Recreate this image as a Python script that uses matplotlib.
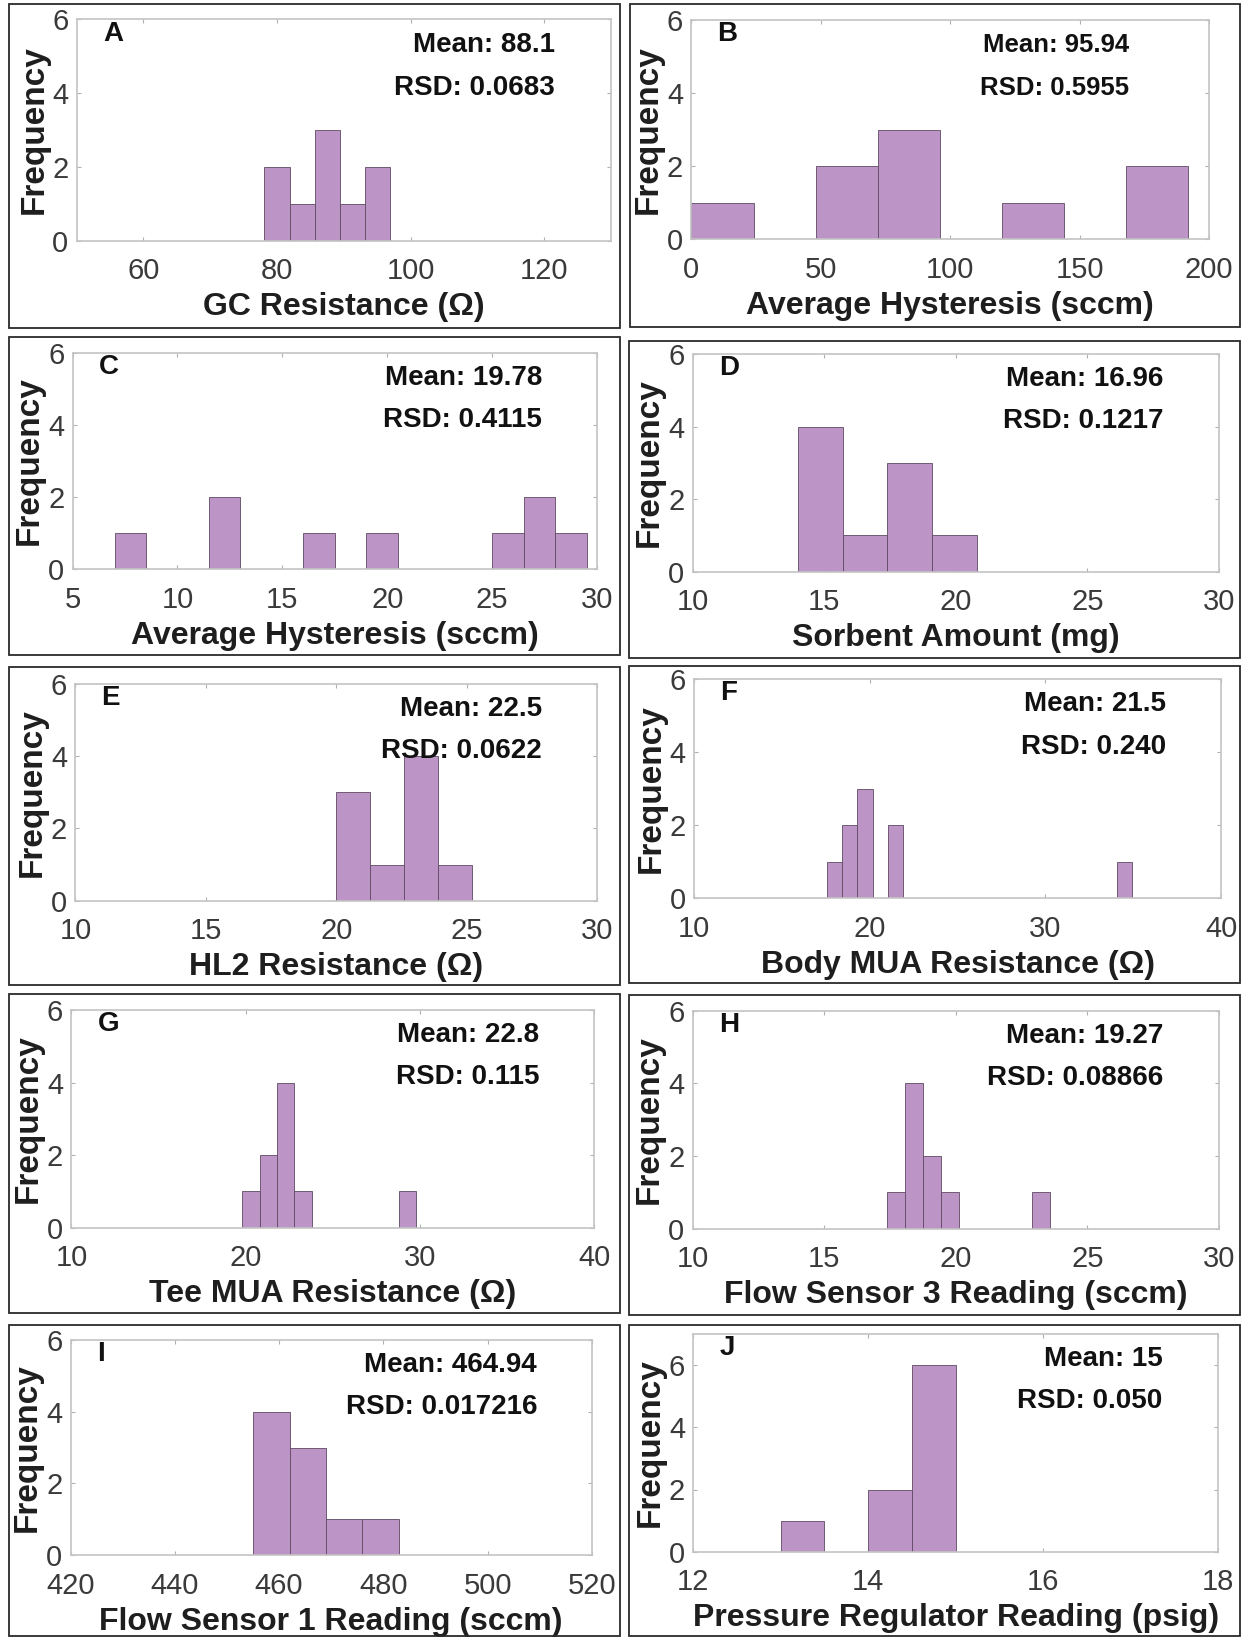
import matplotlib
matplotlib.use("Agg")
import matplotlib.pyplot as plt
from matplotlib.patches import Rectangle

plt.rcParams['font.family'] = ['Liberation Sans', 'DejaVu Sans']

# ---------------- data (non-empty histogram bins) ----------------
letters = ["A", "B", "C", "D", "E", "F", "G", "H", "I", "J"]

xlabels = ["GC Resistance (Ω)", "Average Hysteresis (sccm)",
           "Average Hysteresis (sccm)", "Sorbent Amount (mg)",
           "HL2 Resistance (Ω)", "Body MUA Resistance (Ω)",
           "Tee MUA Resistance (Ω)", "Flow Sensor 3 Reading (sccm)",
           "Flow Sensor 1 Reading (sccm)", "Pressure Regulator Reading (psig)"]

means = ["88.1", "95.94", "19.78", "16.96", "22.5", "21.5", "22.8", "19.27", "464.94", "15"]
rsds = ["0.0683", "0.5955", "0.4115", "0.1217", "0.0622", "0.240", "0.115", "0.08866", "0.017216", "0.050"]

binleft_A = [78.1, 81.9, 85.7, 89.4, 93.2]
counts_A = [2, 1, 3, 1, 2]
width_A = 3.78

binleft_B = [0, 48, 72, 120, 168]
counts_B = [1, 2, 3, 1, 2]
width_B = 24

binleft_C = [7.0, 11.5, 16.0, 19.0, 25.0, 26.5, 28.0]
counts_C = [1, 2, 1, 1, 1, 2, 1]
width_C = 1.5

binleft_D = [14.0, 15.7, 17.4, 19.1]
counts_D = [4, 1, 3, 1]
width_D = 1.7

binleft_E = [20.0, 21.3, 22.6, 23.9]
counts_E = [3, 1, 4, 1]
width_E = 1.3

binleft_F = [17.55, 18.42, 19.29, 21.03, 34.08]
counts_F = [1, 2, 3, 2, 1]
width_F = 0.87

binleft_G = [19.8, 20.8, 21.8, 22.8, 28.8]
counts_G = [1, 2, 4, 1, 1]
width_G = 1.0

binleft_H = [17.38, 18.07, 18.76, 19.45, 22.9]
counts_H = [1, 4, 2, 1, 1]
width_H = 0.69

binleft_I = [455, 462, 469, 476]
counts_I = [4, 3, 1, 1]
width_I = 7

binleft_J = [13.0, 14.0, 14.5]
counts_J = [1, 2, 6]
width_J = 0.5

binlefts = [binleft_A, binleft_B, binleft_C, binleft_D, binleft_E,
            binleft_F, binleft_G, binleft_H, binleft_I, binleft_J]
counts = [counts_A, counts_B, counts_C, counts_D, counts_E,
          counts_F, counts_G, counts_H, counts_I, counts_J]
widths = [width_A, width_B, width_C, width_D, width_E,
          width_F, width_G, width_H, width_I, width_J]

xlims = [(50, 130), (0, 200), (5, 30), (10, 30), (10, 30),
         (10, 40), (10, 40), (10, 30), (420, 520), (12, 18)]
xticks = [[60, 80, 100, 120], [0, 50, 100, 150, 200], [5, 10, 15, 20, 25, 30],
          [10, 15, 20, 25, 30], [10, 15, 20, 25, 30], [10, 20, 30, 40],
          [10, 20, 30, 40], [10, 15, 20, 25, 30], [420, 440, 460, 480, 500, 520],
          [12, 14, 16, 18]]
ylims = [6, 6, 6, 6, 6, 6, 6, 6, 6, 7]
yticks = [0, 2, 4, 6]

# ---------------- layout (pixels) ----------------
W, H = 1244, 1637
axes_px = [  # left, right, top, bottom
    (76.7, 611, 19.3, 240.7), (691.4, 1209, 20, 239.3),
    (72.6, 597, 352.7, 569.3), (692.6, 1219, 354, 571.7),
    (75.4, 597, 684, 900.7), (694.2, 1221, 679, 898.3),
    (71.4, 594.2, 1010, 1227.7), (692.6, 1219, 1010.7, 1228.7),
    (70.6, 591.8, 1340, 1555), (693.4, 1217.8, 1334, 1551.7),
]
frames_px = [
    (9.3, 620, 4, 328), (630, 1239.5, 4, 327),
    (9.3, 620, 337, 655), (629, 1239.5, 341, 658),
    (9.3, 620, 667, 985), (629, 1239.5, 666, 983),
    (9.3, 620, 994, 1313), (629, 1239.5, 995, 1315),
    (9.3, 620, 1325, 1636), (629, 1239.5, 1325, 1636),
]
# annotation placement (axes fraction) and size per panel
note_x = [0.895, 0.845, 0.895, 0.895, 0.895, 0.895, 0.895, 0.895, 0.895, 0.895]
note_size = [20, 18.5, 20, 20, 20, 20, 20, 20, 20, 20]

fig = plt.figure(figsize=(W / 100, H / 100), dpi=100)
fig.patch.set_facecolor("white")

bar_face = "#bd94c6"
bar_edge = "#5e4a63"
spine_col = "#c4c4c4"
tick_col = "#3a3a3a"

for i in range(10):
    l, r, t, b = axes_px[i]
    ax = fig.add_axes([l / W, 1 - b / H, (r - l) / W, (b - t) / H])
    ax.bar(binlefts[i], counts[i], width=widths[i], align="edge",
           color=bar_face, edgecolor=bar_edge, linewidth=0.6, zorder=2)
    ax.set_xlim(*xlims[i])
    ax.set_ylim(0, ylims[i])
    ax.set_xticks(xticks[i])
    ax.set_yticks(yticks)
    for sp in ax.spines.values():
        sp.set_color(spine_col)
        sp.set_linewidth(1.2)
    ax.tick_params(axis="both", direction="in", length=3, width=0.8,
                   color="#b0b0b0", labelsize=21, labelcolor=tick_col,
                   top=True, right=True)
    ax.tick_params(axis="x", pad=12)
    ax.tick_params(axis="y", pad=6)
    ax.set_xlabel(xlabels[i], fontsize=23, fontweight="bold",
                  color="#1e1e1e", labelpad=5)
    ax.set_ylabel("Frequency", fontsize=24, fontweight="bold",
                  color="#1e1e1e", labelpad=2)
    ax.text(0.05, 0.935, letters[i], transform=ax.transAxes, fontsize=20,
            fontweight="bold", ha="left", va="center", color="#111111", zorder=5)
    ax.text(note_x[i], 0.885, "Mean: " + means[i], transform=ax.transAxes,
            fontsize=note_size[i], fontweight="bold", ha="right", va="center",
            color="#111111", zorder=5)
    ax.text(note_x[i], 0.69, "RSD: " + rsds[i], transform=ax.transAxes,
            fontsize=note_size[i], fontweight="bold", ha="right", va="center",
            color="#111111", zorder=5)

for (l, r, t, b) in frames_px:
    fig.patches.append(Rectangle((l / W, 1 - b / H), (r - l) / W, (b - t) / H,
                                 transform=fig.transFigure, fill=False,
                                 edgecolor="#2a2a2a", linewidth=1.3))

fig.savefig("out.png", dpi=100, facecolor="white")
